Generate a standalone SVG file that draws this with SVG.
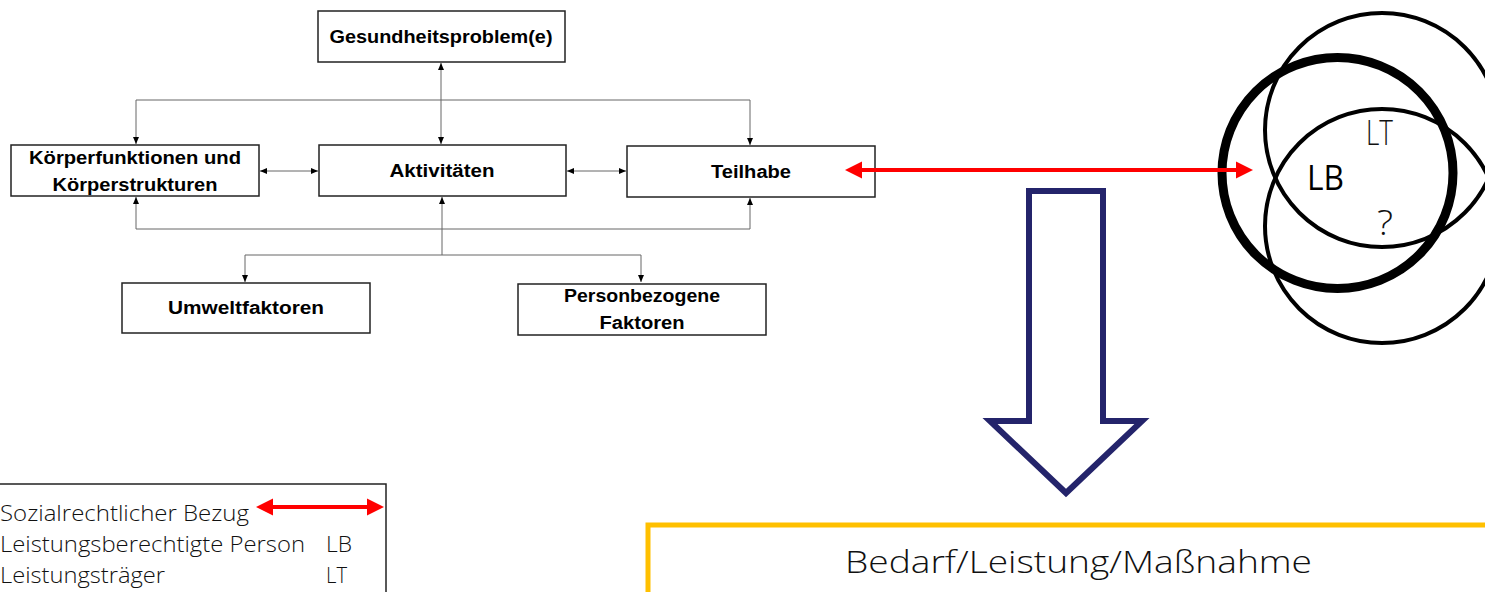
<svg xmlns="http://www.w3.org/2000/svg" width="1485" height="592" viewBox="0 0 1485 592">
<style>
.box{fill:#fff;stroke:#222;stroke-width:1.5}
.bt{font-family:"Liberation Sans",Arial,sans-serif;font-weight:bold;font-size:18px;fill:#000;text-anchor:middle}
.con{fill:none;stroke:#666;stroke-width:1}
.red{fill:none;stroke:#f00;stroke-width:4}
.lt{font-family:"Open Sans","Liberation Sans",sans-serif;font-weight:300;fill:#111}
.ring{fill:none;stroke:#000;stroke-width:4}
</style>
<defs>
<marker id="ah" markerUnits="userSpaceOnUse" markerWidth="8" markerHeight="8" refX="7" refY="4" orient="auto-start-reverse">
<path d="M0,1 L7,4 L0,7 Z" fill="#000"/>
</marker>
<marker id="rh" markerUnits="userSpaceOnUse" markerWidth="18" markerHeight="18" refX="7" refY="9" orient="auto-start-reverse">
<path d="M0,0.5 L17,9 L0,17.5 Z" fill="#f00"/>
</marker>
</defs>

<g id="gesundheit">
<rect class="box" x="318" y="11" width="247" height="51"/>
<text class="bt" x="441" y="43" textLength="223" lengthAdjust="spacingAndGlyphs">Gesundheitsproblem(e)</text>
</g>
<g id="koerper">
<rect class="box" x="11" y="145" width="248" height="51"/>
<text class="bt" x="135" y="164" textLength="212" lengthAdjust="spacingAndGlyphs">Körperfunktionen und</text>
<text class="bt" x="135" y="191" textLength="165" lengthAdjust="spacingAndGlyphs">Körperstrukturen</text>
</g>
<g id="aktivitaeten">
<rect class="box" x="319" y="145" width="247" height="51"/>
<text class="bt" x="442" y="177" textLength="105" lengthAdjust="spacingAndGlyphs">Aktivitäten</text>
</g>
<g id="teilhabe">
<rect class="box" x="627" y="146" width="248" height="51"/>
<text class="bt" x="751" y="178" textLength="80" lengthAdjust="spacingAndGlyphs">Teilhabe</text>
</g>
<g id="umwelt">
<rect class="box" x="122" y="283" width="248" height="50"/>
<text class="bt" x="246" y="314" textLength="156" lengthAdjust="spacingAndGlyphs">Umweltfaktoren</text>
</g>
<g id="person">
<rect class="box" x="518" y="284" width="248" height="51"/>
<text class="bt" x="642" y="302" textLength="156" lengthAdjust="spacingAndGlyphs">Personbezogene</text>
<text class="bt" x="642" y="329" textLength="85" lengthAdjust="spacingAndGlyphs">Faktoren</text>
</g>

<g id="venn">
<circle class="ring" cx="1382" cy="130" r="117"/>
<circle class="ring" cx="1382" cy="226" r="117"/>
<circle cx="1337.5" cy="173" r="115.5" fill="none" stroke="#000" stroke-width="9"/>
<text class="lt" x="1366" y="145" font-size="35" textLength="27" lengthAdjust="spacingAndGlyphs">LT</text>
<text x="1307" y="190" font-family="Open Sans,Liberation Sans,sans-serif" font-size="34" fill="#000" textLength="37" lengthAdjust="spacingAndGlyphs">LB</text>
<text class="lt" x="1377" y="235" font-size="34" textLength="16" lengthAdjust="spacingAndGlyphs">?</text>
</g>

<g id="big-arrow">
<polygon points="1029,191 1103,191 1103,421 1142,421 1066,493 990,421 1029,421" fill="#fff" stroke="#24246b" stroke-width="6"/>
</g>

<g id="result">
<rect x="648" y="525" width="860" height="90" fill="#fff" stroke="#ffc000" stroke-width="5"/>
<text class="lt" x="845" y="573" font-size="32" textLength="467" lengthAdjust="spacingAndGlyphs">Bedarf/Leistung/Maßnahme</text>
</g>

<g id="legend">
<rect x="-2" y="484" width="388" height="130" fill="#fff" stroke="#222" stroke-width="1.5"/>
<text class="lt" x="0" y="521" font-size="22" textLength="249" lengthAdjust="spacingAndGlyphs">Sozialrechtlicher Bezug</text>
<line class="red" x1="266" y1="507" x2="374" y2="507" marker-start="url(#rh)" marker-end="url(#rh)"/>
<text class="lt" x="0" y="552" font-size="22" textLength="305" lengthAdjust="spacingAndGlyphs">Leistungsberechtigte Person</text>
<text class="lt" x="326" y="552" font-size="22" textLength="26" lengthAdjust="spacingAndGlyphs">LB</text>
<text class="lt" x="0" y="583" font-size="22" textLength="165" lengthAdjust="spacingAndGlyphs">Leistungsträger</text>
<text class="lt" x="326" y="583" font-size="22" textLength="21" lengthAdjust="spacingAndGlyphs">LT</text>
</g>

<g id="connectors">
<line class="con" x1="441" y1="63" x2="441" y2="144" marker-start="url(#ah)" marker-end="url(#ah)"/>
<polyline class="con" points="136,144 136,100 750,100 750,145" marker-start="url(#ah)" marker-end="url(#ah)"/>
<line class="con" x1="260" y1="171" x2="318" y2="171" marker-start="url(#ah)" marker-end="url(#ah)"/>
<line class="con" x1="567" y1="171" x2="626" y2="171" marker-start="url(#ah)" marker-end="url(#ah)"/>
<polyline class="con" points="136,197 136,229 750,229 750,198" marker-start="url(#ah)" marker-end="url(#ah)"/>
<line class="con" x1="442" y1="255" x2="442" y2="197" marker-end="url(#ah)"/>
<polyline class="con" points="245,282 245,255 641,255 641,282" marker-start="url(#ah)" marker-end="url(#ah)"/>
<line class="red" x1="855" y1="170" x2="1243" y2="170" marker-start="url(#rh)" marker-end="url(#rh)"/>
</g>
</svg>
